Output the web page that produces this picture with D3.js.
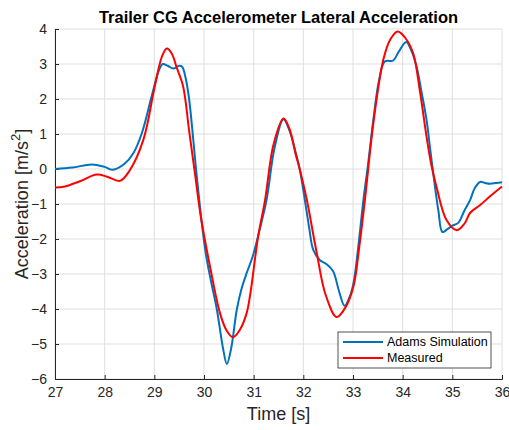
<!DOCTYPE html>
<html>
<head>
<meta charset="utf-8">
<script src="https://cdn.jsdelivr.net/npm/d3@7"></script>
<style>
  html, body { margin: 0; padding: 0; background: #fff; }
  svg { display: block; font-family: "Liberation Sans", Arial, sans-serif; }
</style>
</head>
<body>
<div id="chart"></div>
<script>
// Adams simulation (blue)
const simTime = [27.0, 27.35, 27.74, 28.0, 28.16, 28.4, 28.58, 28.75, 28.95, 29.1, 29.17, 29.27, 29.38, 29.5, 29.56, 29.63, 29.7, 29.84, 29.94, 30.04, 30.14, 30.26, 30.38, 30.46, 30.55, 30.66, 30.76, 30.86, 30.98, 31.1, 31.26, 31.42, 31.6, 31.72, 31.85, 31.93, 32.03, 32.12, 32.2, 32.33, 32.47, 32.6, 32.72, 32.83, 32.92, 33.01, 33.1, 33.21, 33.3, 33.41, 33.52, 33.64, 33.81, 33.92, 34.07, 34.17, 34.28, 34.38, 34.48, 34.56, 34.65, 34.72, 34.8, 34.9, 35.0, 35.12, 35.24, 35.36, 35.45, 35.56, 35.66, 35.76, 35.88, 36.0];
const simAccel = [0.0, 0.04, 0.13, 0.06, -0.02, 0.15, 0.46, 1.03, 2.1, 2.85, 3.0, 2.95, 2.87, 2.95, 2.92, 2.6, 2.0, 0.0, -1.35, -2.45, -3.2, -4.02, -5.1, -5.57, -5.1, -4.02, -3.4, -2.97, -2.5, -1.85, -0.88, 0.6, 1.42, 1.1, 0.45, -0.02, -0.88, -1.7, -2.31, -2.6, -2.72, -2.92, -3.5, -3.91, -3.7, -3.26, -2.3, -0.88, 0.1, 1.41, 2.5, 3.07, 3.1, 3.35, 3.63, 3.4, 2.93, 2.2, 1.41, 0.5, -0.5, -1.2, -1.8, -1.72, -1.62, -1.54, -1.2, -0.88, -0.55, -0.37, -0.4, -0.42, -0.4, -0.38];

// Measured (red)
const measTime = [27.0, 27.2, 27.5, 27.84, 28.05, 28.31, 28.5, 28.78, 29.0, 29.15, 29.25, 29.35, 29.45, 29.58, 29.7, 29.82, 29.94, 30.12, 30.32, 30.45, 30.58, 30.72, 30.86, 30.93, 31.09, 31.23, 31.4, 31.6, 31.72, 31.85, 31.93, 32.07, 32.27, 32.45, 32.67, 32.85, 33.01, 33.12, 33.24, 33.41, 33.61, 33.75, 33.9, 34.05, 34.21, 34.35, 34.48, 34.58, 34.68, 34.88, 35.09, 35.25, 35.36, 35.56, 35.76, 36.0];
const measAccel = [-0.53, -0.5, -0.35, -0.16, -0.22, -0.34, -0.05, 0.84, 2.3, 3.2, 3.44, 3.3, 2.9, 2.36, 1.1, -0.15, -1.4, -2.78, -4.11, -4.6, -4.81, -4.6, -4.11, -3.59, -1.93, -0.88, 0.7, 1.44, 1.15, 0.4, -0.02, -0.88, -2.4, -3.6, -4.23, -3.95, -3.35, -2.3, -0.88, 1.31, 3.12, 3.7, 3.93, 3.75, 3.31, 2.2, 0.93, 0.1, -0.5, -1.45, -1.75, -1.55, -1.25, -1.03, -0.78, -0.5];

const xTicks = [27, 28, 29, 30, 31, 32, 33, 34, 35, 36];
const yTicks = [4, 3, 2, 1, 0, -1, -2, -3, -4, -5, -6];
const seriesNames = ['Adams Simulation', 'Measured'];
const seriesColors = ['#0072bd', '#ff0000'];

const W = 509, H = 430;
const margin = { top: 29, right: 7, bottom: 51, left: 55 };
const w = W - margin.left - margin.right;
const h = H - margin.top - margin.bottom;

const svg = d3.select('#chart').append('svg').attr('width', W).attr('height', H);
const g = svg.append('g').attr('transform', `translate(${margin.left},${margin.top})`);

const x = d3.scaleLinear().domain([27, 36]).range([0, w]);
const y = d3.scaleLinear().domain([-6, 4]).range([h, 0]);

// grid
g.append('g').selectAll('line').data(xTicks).enter().append('line')
  .attr('x1', d => x(d)).attr('x2', d => x(d)).attr('y1', 0).attr('y2', h)
  .attr('stroke', '#dfdfdf').attr('stroke-width', 1);
g.append('g').selectAll('line').data(yTicks).enter().append('line')
  .attr('x1', 0).attr('x2', w).attr('y1', d => y(d)).attr('y2', d => y(d))
  .attr('stroke', '#dfdfdf').attr('stroke-width', 1);

// axes
const xAxis = g.append('g').attr('transform', `translate(0,${h})`)
  .call(d3.axisBottom(x).tickValues(xTicks).tickSize(-4).tickPadding(8).tickFormat(d3.format('d')));
const yAxis = g.append('g')
  .call(d3.axisLeft(y).tickValues(yTicks).tickSize(-4).tickPadding(8).tickFormat(d3.format('d')));
[xAxis, yAxis].forEach(a => {
  a.select('.domain').attr('stroke', '#262626').attr('stroke-width', 1);
  a.selectAll('.tick line').attr('stroke', '#262626');
  a.selectAll('text').attr('fill', '#262626').attr('font-size', 14)
    .attr('font-family', '"Liberation Sans", Arial, sans-serif');
});

// lines
const line = d3.line().x(d => x(d[0])).y(d => y(d[1])).curve(d3.curveCatmullRom.alpha(0.5));
const series = [d3.zip(simTime, simAccel), d3.zip(measTime, measAccel)];
series.forEach((pts, i) => {
  g.append('path').datum(pts).attr('d', line)
    .attr('fill', 'none').attr('stroke', seriesColors[i]).attr('stroke-width', 2)
    .attr('stroke-linejoin', 'round');
});

// title
svg.append('text').attr('x', margin.left + w / 2).attr('y', 23)
  .attr('text-anchor', 'middle').attr('font-size', 16.5).attr('font-weight', 'bold')
  .attr('fill', '#000').text('Trailer CG Accelerometer Lateral Acceleration');

// axis labels
svg.append('text').attr('x', margin.left + w / 2).attr('y', 420)
  .attr('text-anchor', 'middle').attr('font-size', 18).attr('fill', '#262626').text('Time [s]');
const yl = svg.append('text').attr('transform', `translate(28,${margin.top + h / 2}) rotate(-90)`)
  .attr('text-anchor', 'middle').attr('font-size', 18).attr('fill', '#262626');
yl.append('tspan').text('Acceleration [m/s');
yl.append('tspan').attr('font-size', 13).attr('dy', -8).text('2');
yl.append('tspan').attr('dy', 8).text(']');

// legend
const lg = svg.append('g').attr('transform', 'translate(338,332)');
lg.append('rect').attr('width', 153).attr('height', 36)
  .attr('fill', '#fff').attr('stroke', '#262626').attr('stroke-width', 0.8);
seriesNames.forEach((name, i) => {
  const yy = 10 + i * 16;
  lg.append('line').attr('x1', 5).attr('x2', 45).attr('y1', yy).attr('y2', yy)
    .attr('stroke', seriesColors[i]).attr('stroke-width', 2);
  lg.append('text').attr('x', 49).attr('y', yy).attr('dy', '0.35em')
    .attr('font-size', 12.5).attr('fill', '#000').text(name);
});
</script>
</body>
</html>
